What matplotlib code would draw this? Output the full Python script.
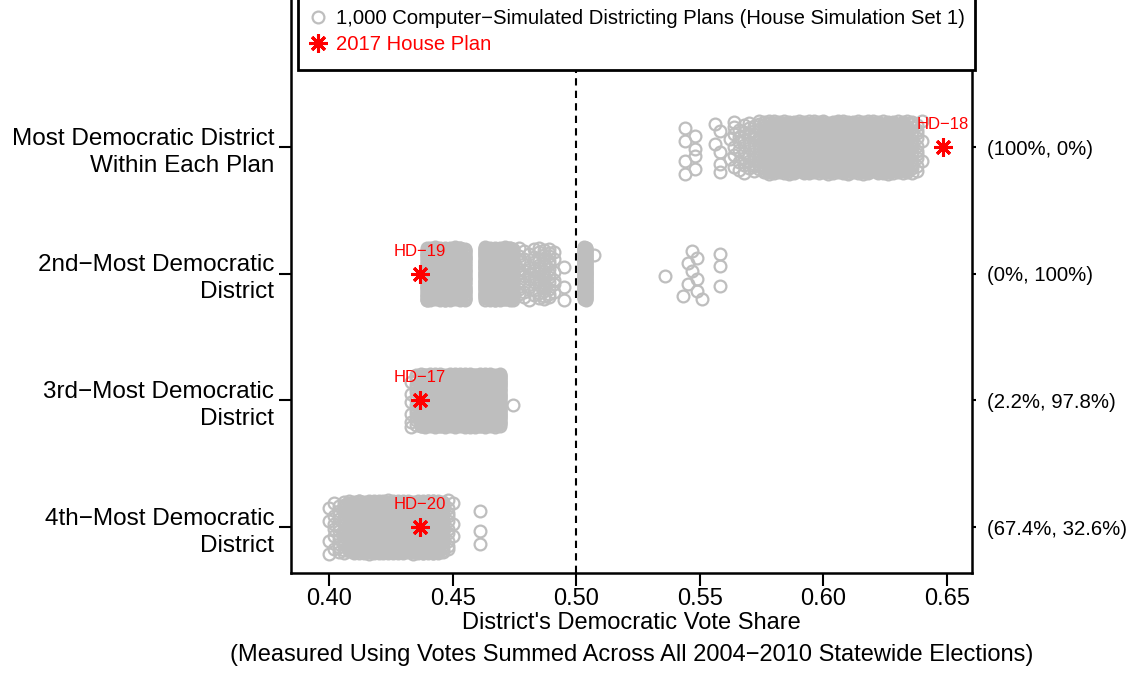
"""Dot plot: simulated districting plans vs. the 2017 House plan, by district rank."""
import matplotlib.pyplot as plt
import numpy as np

plt.rcParams['font.family'] = ['Liberation Sans', 'DejaVu Sans']

# ---- data -----------------------------------------------------------------
row_labels = [
    "Most Democratic District\nWithin Each Plan",
    "2nd\u2212Most Democratic\nDistrict",
    "3rd\u2212Most Democratic\nDistrict",
    "4th\u2212Most Democratic\nDistrict",
]
right_labels = ["(100%, 0%)", "(0%, 100%)", "(2.2%, 97.8%)", "(67.4%, 32.6%)"]

# simulated vote shares, binned: share value -> number of the 1,000 plans
rank1_share = [0.544, 0.548, 0.556, 0.558, 0.562, 0.564, 0.566, 0.568, 0.570,
               0.572, 0.574, 0.576, 0.578, 0.580, 0.582, 0.584, 0.586, 0.588, 0.590,
               0.592, 0.594, 0.596, 0.598, 0.600, 0.602, 0.604, 0.606, 0.608, 0.610,
               0.612, 0.614, 0.616, 0.618, 0.620, 0.622, 0.624, 0.626, 0.628, 0.630,
               0.632, 0.634, 0.636, 0.638, 0.640]
rank1_count = [4, 4, 2, 4, 2, 6, 6, 8, 8,
               10, 12, 22, 28, 30, 31, 31, 31, 31, 31,
               31, 31, 31, 31, 31, 31, 31, 31, 31, 31,
               31, 31, 31, 31, 31, 31, 30, 30, 30, 30,
               24, 20, 16, 10, 3]

rank2_share = [0.4395, 0.441, 0.443, 0.445, 0.447, 0.449, 0.451, 0.453, 0.455,
               0.463, 0.465, 0.467, 0.469, 0.471, 0.473, 0.4745,
               0.477, 0.479, 0.481, 0.483, 0.485, 0.487, 0.489, 0.491, 0.495,
               0.503, 0.504, 0.507,
               0.536, 0.543, 0.545, 0.547, 0.549, 0.551, 0.558]
rank2_count = [40, 55, 58, 58, 58, 58, 58, 55, 40,
               50, 60, 60, 60, 60, 55, 35,
               8, 8, 6, 8, 10, 14, 12, 6, 3,
               55, 55, 1,
               1, 1, 2, 2, 3, 1, 3]

rank3_share = [0.433, 0.435, 0.437, 0.439, 0.441, 0.443, 0.445, 0.447, 0.449, 0.451,
               0.453, 0.455, 0.457, 0.459, 0.461, 0.463, 0.465, 0.467, 0.469, 0.4745]
rank3_count = [6, 16, 50, 58, 60, 60, 60, 60, 60, 60,
               60, 60, 60, 60, 60, 58, 55, 50, 46, 1]

rank4_share = [0.400, 0.402, 0.404, 0.406, 0.408, 0.410, 0.412, 0.414, 0.416, 0.418,
               0.420, 0.422, 0.424, 0.426, 0.428, 0.430, 0.432, 0.434, 0.436,
               0.438, 0.440, 0.442, 0.444, 0.446, 0.448, 0.450, 0.461]
rank4_count = [4, 6, 10, 18, 30, 38, 42, 44, 46, 46,
               46, 46, 46, 46, 46, 46, 46, 34, 34,
               80, 80, 76, 50, 24, 10, 3, 3]

# 2017 House plan districts
plan_share = [0.6484, 0.4368, 0.4368, 0.4368]
plan_names = ["HD\u221218", "HD\u221219", "HD\u221217", "HD\u221220"]

sim_shares = [rank1_share, rank2_share, rank3_share, rank4_share]
sim_counts = [rank1_count, rank2_count, rank3_count, rank4_count]

GRAY = "#BEBEBE"
JITTER = 0.21


def spread_points(shares, counts, row):
    """Expand binned shares to points, with a fixed vertical spread around the row."""
    xs, ys = [], []
    k = 0
    for s, c in zip(shares, counts):
        for _ in range(c):
            xs.append(s)
            ys.append(row + JITTER * 2 * (((k * 0.6180339887) % 1.0) - 0.5))
            k += 1
    return np.array(xs), np.array(ys)


fig = plt.figure(figsize=(11.35, 6.91), dpi=100)
ax = fig.add_axes([0.2564, 0.1708, 0.6, 0.836])

rows = [4, 3, 2, 1]
for i, row in enumerate(rows):
    xs, ys = spread_points(sim_shares[i], sim_counts[i], row)
    ax.plot(xs, ys, linestyle="none", marker="o", markersize=8.5,
            markerfacecolor="none", markeredgecolor=GRAY, markeredgewidth=1.6,
            label="1,000 Computer\u2212Simulated Districting Plans (House Simulation Set 1)"
            if i == 0 else None, zorder=2)

ax.plot(plan_share, rows, linestyle="none", marker=(8, 2, 0), markersize=13,
        markeredgecolor="red", markeredgewidth=2.2, color="red",
        label="2017 House Plan", zorder=4)
for x, row, name in zip(plan_share, rows, plan_names):
    ax.text(x, row + 0.12, name, color="red", fontsize=12, ha="center", va="bottom",
            zorder=5)

ax.axvline(0.5, color="black", linestyle=(0, (3.5, 2.5)), linewidth=1.5, zorder=1)

ax.set_xlim(0.3846, 0.6601)
ax.set_ylim(0.637, 5.2)
ax.set_xticks([0.40, 0.45, 0.50, 0.55, 0.60, 0.65])
ax.set_xticklabels(["0.40", "0.45", "0.50", "0.55", "0.60", "0.65"])
ax.set_yticks(rows)
ax.set_yticklabels(row_labels, linespacing=1.3)
ax.tick_params(axis="both", direction="out", width=1.5, colors="black")
ax.tick_params(axis="x", length=9, pad=2, labelsize=17)
ax.tick_params(axis="y", length=9, pad=3, labelsize=17.5)
for sp in ax.spines.values():
    sp.set_linewidth(1.8)

ax.set_xlabel("District's Democratic Vote Share\n"
              "(Measured Using Votes Summed Across All 2004\u22122010 Statewide Elections)",
              fontsize=17, linespacing=1.6, labelpad=1)

ax2 = ax.twinx()
ax2.set_ylim(ax.get_ylim())
ax2.set_yticks(rows)
ax2.set_yticklabels(right_labels)
ax2.tick_params(axis="y", labelsize=14.7, length=3, width=1.5, pad=8)
for sp in ax2.spines.values():
    sp.set_visible(False)

leg = ax.legend(loc="lower left",
                bbox_to_anchor=(298 / 1135, 1 - 70 / 691, (975 - 298) / 1135, 0.1),
                bbox_transform=fig.transFigure, mode="expand", fontsize=14.6,
                frameon=True, fancybox=False, edgecolor="black", framealpha=1.0,
                handletextpad=0.65, handlelength=0.4, borderpad=0.8,
                labelspacing=0.32, borderaxespad=0)
leg.get_frame().set_linewidth(2.0)
leg.get_texts()[1].set_color("red")
leg.set_zorder(10)

fig.savefig("out.png", dpi=100)
